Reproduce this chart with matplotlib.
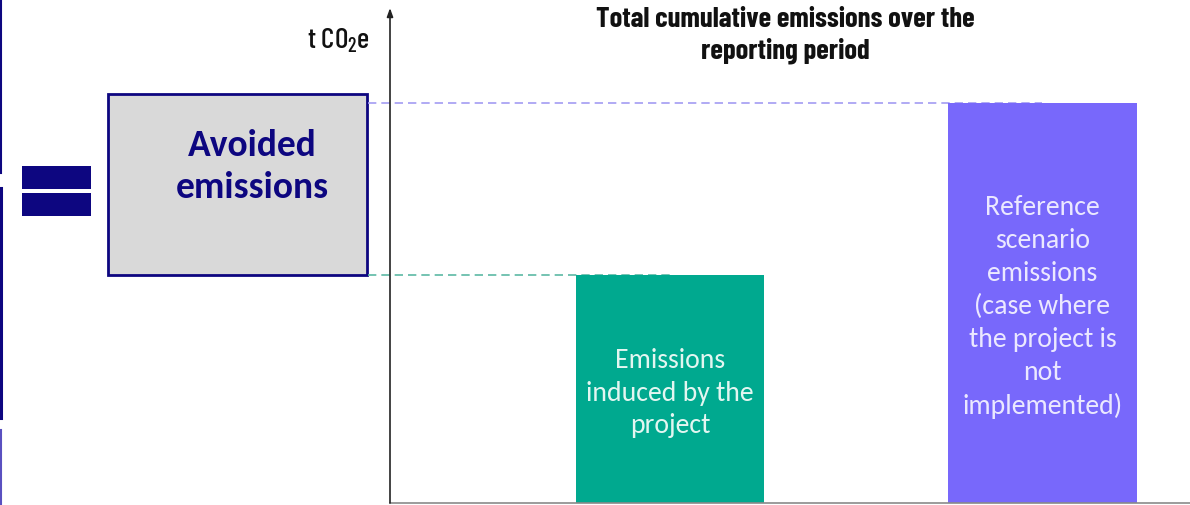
import matplotlib
matplotlib.use("Agg")
import matplotlib.pyplot as plt
from matplotlib.patches import Rectangle
from matplotlib import font_manager

# --- data -------------------------------------------------------------
categories = ["Emissions\ninduced by the\nproject",
              "Reference\nscenario\nemissions\n(case where\nthe project is\nnot\nimplemented)"]
values = [57, 100]          # cumulative emissions, t CO2e (relative units)
bar_colors = ["#00a98f", "#7868fb"]
text_colors = ["#e3f6f1", "#ebe8ff"]
dash_colors = ["#5cb9a4", "#a39cf2"]
title = "Total cumulative emissions over the\nreporting period"
unit_label = "t CO$_2$e"
box_label = "Avoided\nemissions"

NAVY = "#0d0680"

def pick(*names):
    avail = {f.name for f in font_manager.fontManager.ttflist}
    for n in names:
        if n in avail:
            return n
    return "DejaVu Sans"

narrow = pick("Barlow Condensed", "Roboto Condensed", "DejaVu Sans")
body = pick("Carlito", "Lato", "DejaVu Sans")
plt.rcParams["mathtext.default"] = "regular"

W, H = 1190, 505
fig = plt.figure(figsize=(W / 100, H / 100), dpi=100)

# main chart axes
ax_l, ax_r, ax_b, ax_t = 390, 1190, 503, 8
ax = fig.add_axes([ax_l / W, (H - ax_b) / H, (ax_r - ax_l) / W, (ax_b - ax_t) / H])
ax.set_facecolor("none")
x = [0, 1]
bar_w = 0.505
ax.set_xlim(-0.7517, 1.396)
ax.set_ylim(0, 123.75)
ax.bar(x, values, width=bar_w, color=bar_colors, zorder=2)
for xi, v, lab, tc in zip(x, values, categories, text_colors):
    ax.text(xi, v / 2 - 1, lab, ha="center", va="center", color=tc,
            fontsize=20, family=body, linespacing=1.4, zorder=3)

# dashed guides from the avoided-emissions box to each bar level
x_start = -0.7517 - 22 / 372.5
for xi, v, dc in zip(x, values, dash_colors):
    ax.plot([x_start, xi], [v, v], color=dc, lw=1.2, dashes=(5, 3),
            clip_on=False, zorder=1)

for s in ["top", "right", "left"]:
    ax.spines[s].set_visible(False)
ax.spines["bottom"].set_color("#8a8a8a")
ax.spines["bottom"].set_linewidth(1.2)
ax.set_xticks([])
ax.set_yticks([])
# y axis with arrow head
ax.annotate("", xy=(0, 1), xytext=(0, 0), xycoords="axes fraction",
            arrowprops=dict(arrowstyle="-|>,head_length=0.5,head_width=0.18",
                            color="#222222", lw=1.2, shrinkA=0, shrinkB=0))

# decoration layer in pixel coordinates
deco = fig.add_axes([0, 0, 1, 1], zorder=-1)
deco.set_xlim(0, W)
deco.set_ylim(H, 0)
deco.axis("off")
deco.set_facecolor("none")

deco.add_patch(Rectangle((108, 94), 259, 181, facecolor="#d9d9d9",
                         edgecolor=NAVY, lw=2))
deco.text(252, 166.5, box_label, ha="center", va="center", color=NAVY,
          fontsize=27, fontweight="bold", family=body, linespacing=1.32)

# equals sign
deco.add_patch(Rectangle((22, 166), 69, 23, facecolor=NAVY, edgecolor="none"))
deco.add_patch(Rectangle((22, 193), 69, 23, facecolor=NAVY, edgecolor="none"))

# edges of the neighbouring bracket
deco.plot([1, 1], [0, 173], color=NAVY, lw=1.5)
deco.plot([1, 1], [188, 418], color=NAVY, lw=2.2)
deco.plot([1, 1], [430, 505], color="#5a50c0", lw=1.5)

fig.text(785 / W, 1 - 35.5 / H, title, ha="center", va="center",
         fontsize=20.7, fontweight="bold", family=narrow, linespacing=1.28,
         color="#111111")
fig.text(370 / W, 1 - 41 / H, unit_label, ha="right", va="center",
         fontsize=21, fontweight="medium", family=narrow, color="#111111")

fig.savefig("out.png", dpi=100, facecolor="white")
